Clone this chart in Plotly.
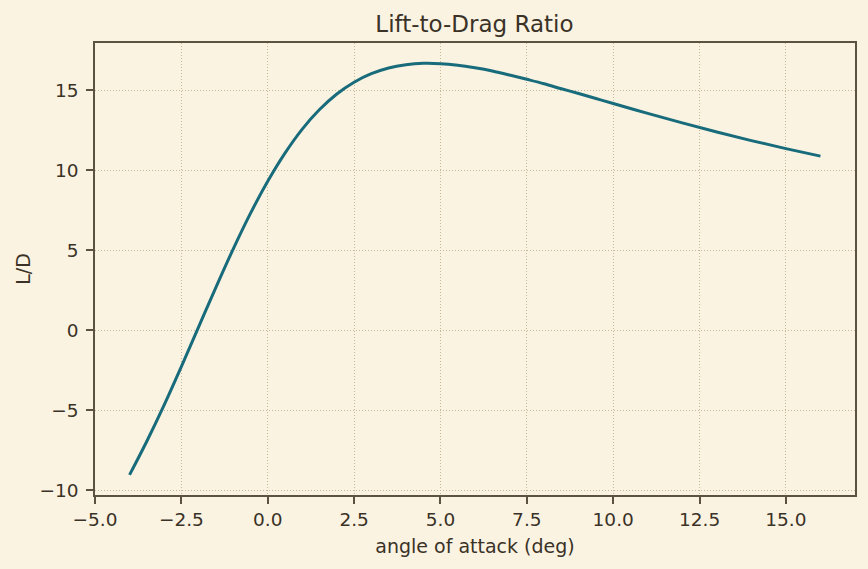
import plotly.graph_objects as go

alpha = [-4.0, -3.5, -3.0, -2.5, -2.0, -1.5, -1.0, -0.5, 0.0, 0.5, 1.0, 1.5, 2.0, 2.5,
         3.0, 3.5, 4.0, 4.5, 5.0, 5.5, 6.0, 6.5, 7.0, 7.5, 8.0, 8.5, 9.0, 9.5, 10.0,
         11.0, 12.0, 13.0, 14.0, 15.0, 16.0]
ld = [-9.05, -6.95, -4.69, -2.28, 0.2, 2.67, 5.06, 7.29, 9.3, 11.06, 12.56, 13.78, 14.75,
      15.49, 16.02, 16.38, 16.58, 16.67, 16.65, 16.55, 16.39, 16.19, 15.94, 15.67, 15.39,
      15.08, 14.78, 14.47, 14.16, 13.54, 12.95, 12.38, 11.84, 11.34, 10.87]

bg = "#fbf3e2"
spine = "#5c5242"
txt = "#3a3226"
grid = "#c6b894"

fig = go.Figure()
fig.add_trace(go.Scatter(x=alpha, y=ld, mode="lines",
                         line=dict(color="#176b7b", width=3, shape="spline", smoothing=1.0),
                         showlegend=False, hoverinfo="x+y"))

axis_common = dict(
    showline=True, linecolor=spine, linewidth=1.6, mirror=True,
    ticks="outside", ticklen=7, tickwidth=1.5, tickcolor=spine,
    showgrid=True, gridcolor=grid, griddash="1px,2px", gridwidth=1,
    zeroline=False, tickfont=dict(size=18.5, color=txt),
)

fig.update_layout(
    width=868, height=569,
    paper_bgcolor=bg, plot_bgcolor=bg,
    margin=dict(l=95, r=13, t=43, b=74),
    font=dict(family="DejaVu Sans", color=txt, size=18.5),
    title=dict(text="Lift-to-Drag Ratio", x=0.5466, xanchor="center", y=0.958, yanchor="middle",
               font=dict(size=23, color=txt)),
    xaxis=dict(range=[-5, 17], tickvals=[-5, -2.5, 0, 2.5, 5, 7.5, 10, 12.5, 15],
               ticktext=["\u22125.0", "\u22122.5", "0.0", "2.5", "5.0", "7.5", "10.0", "12.5", "15.0"],
               title=dict(text="angle of attack (deg)", font=dict(size=19, color=txt), standoff=11),
               ticklabelstandoff=0,
               **axis_common),
    yaxis=dict(range=[-10.31, 17.94], tickvals=[-10, -5, 0, 5, 10, 15],
               ticktext=["\u221210", "\u22125", "0", "5", "10", "15"],
               title=dict(text="L/D", font=dict(size=19, color=txt), standoff=4),
               ticklabelstandoff=4,
               **axis_common),
)

fig.write_html("out.html")
